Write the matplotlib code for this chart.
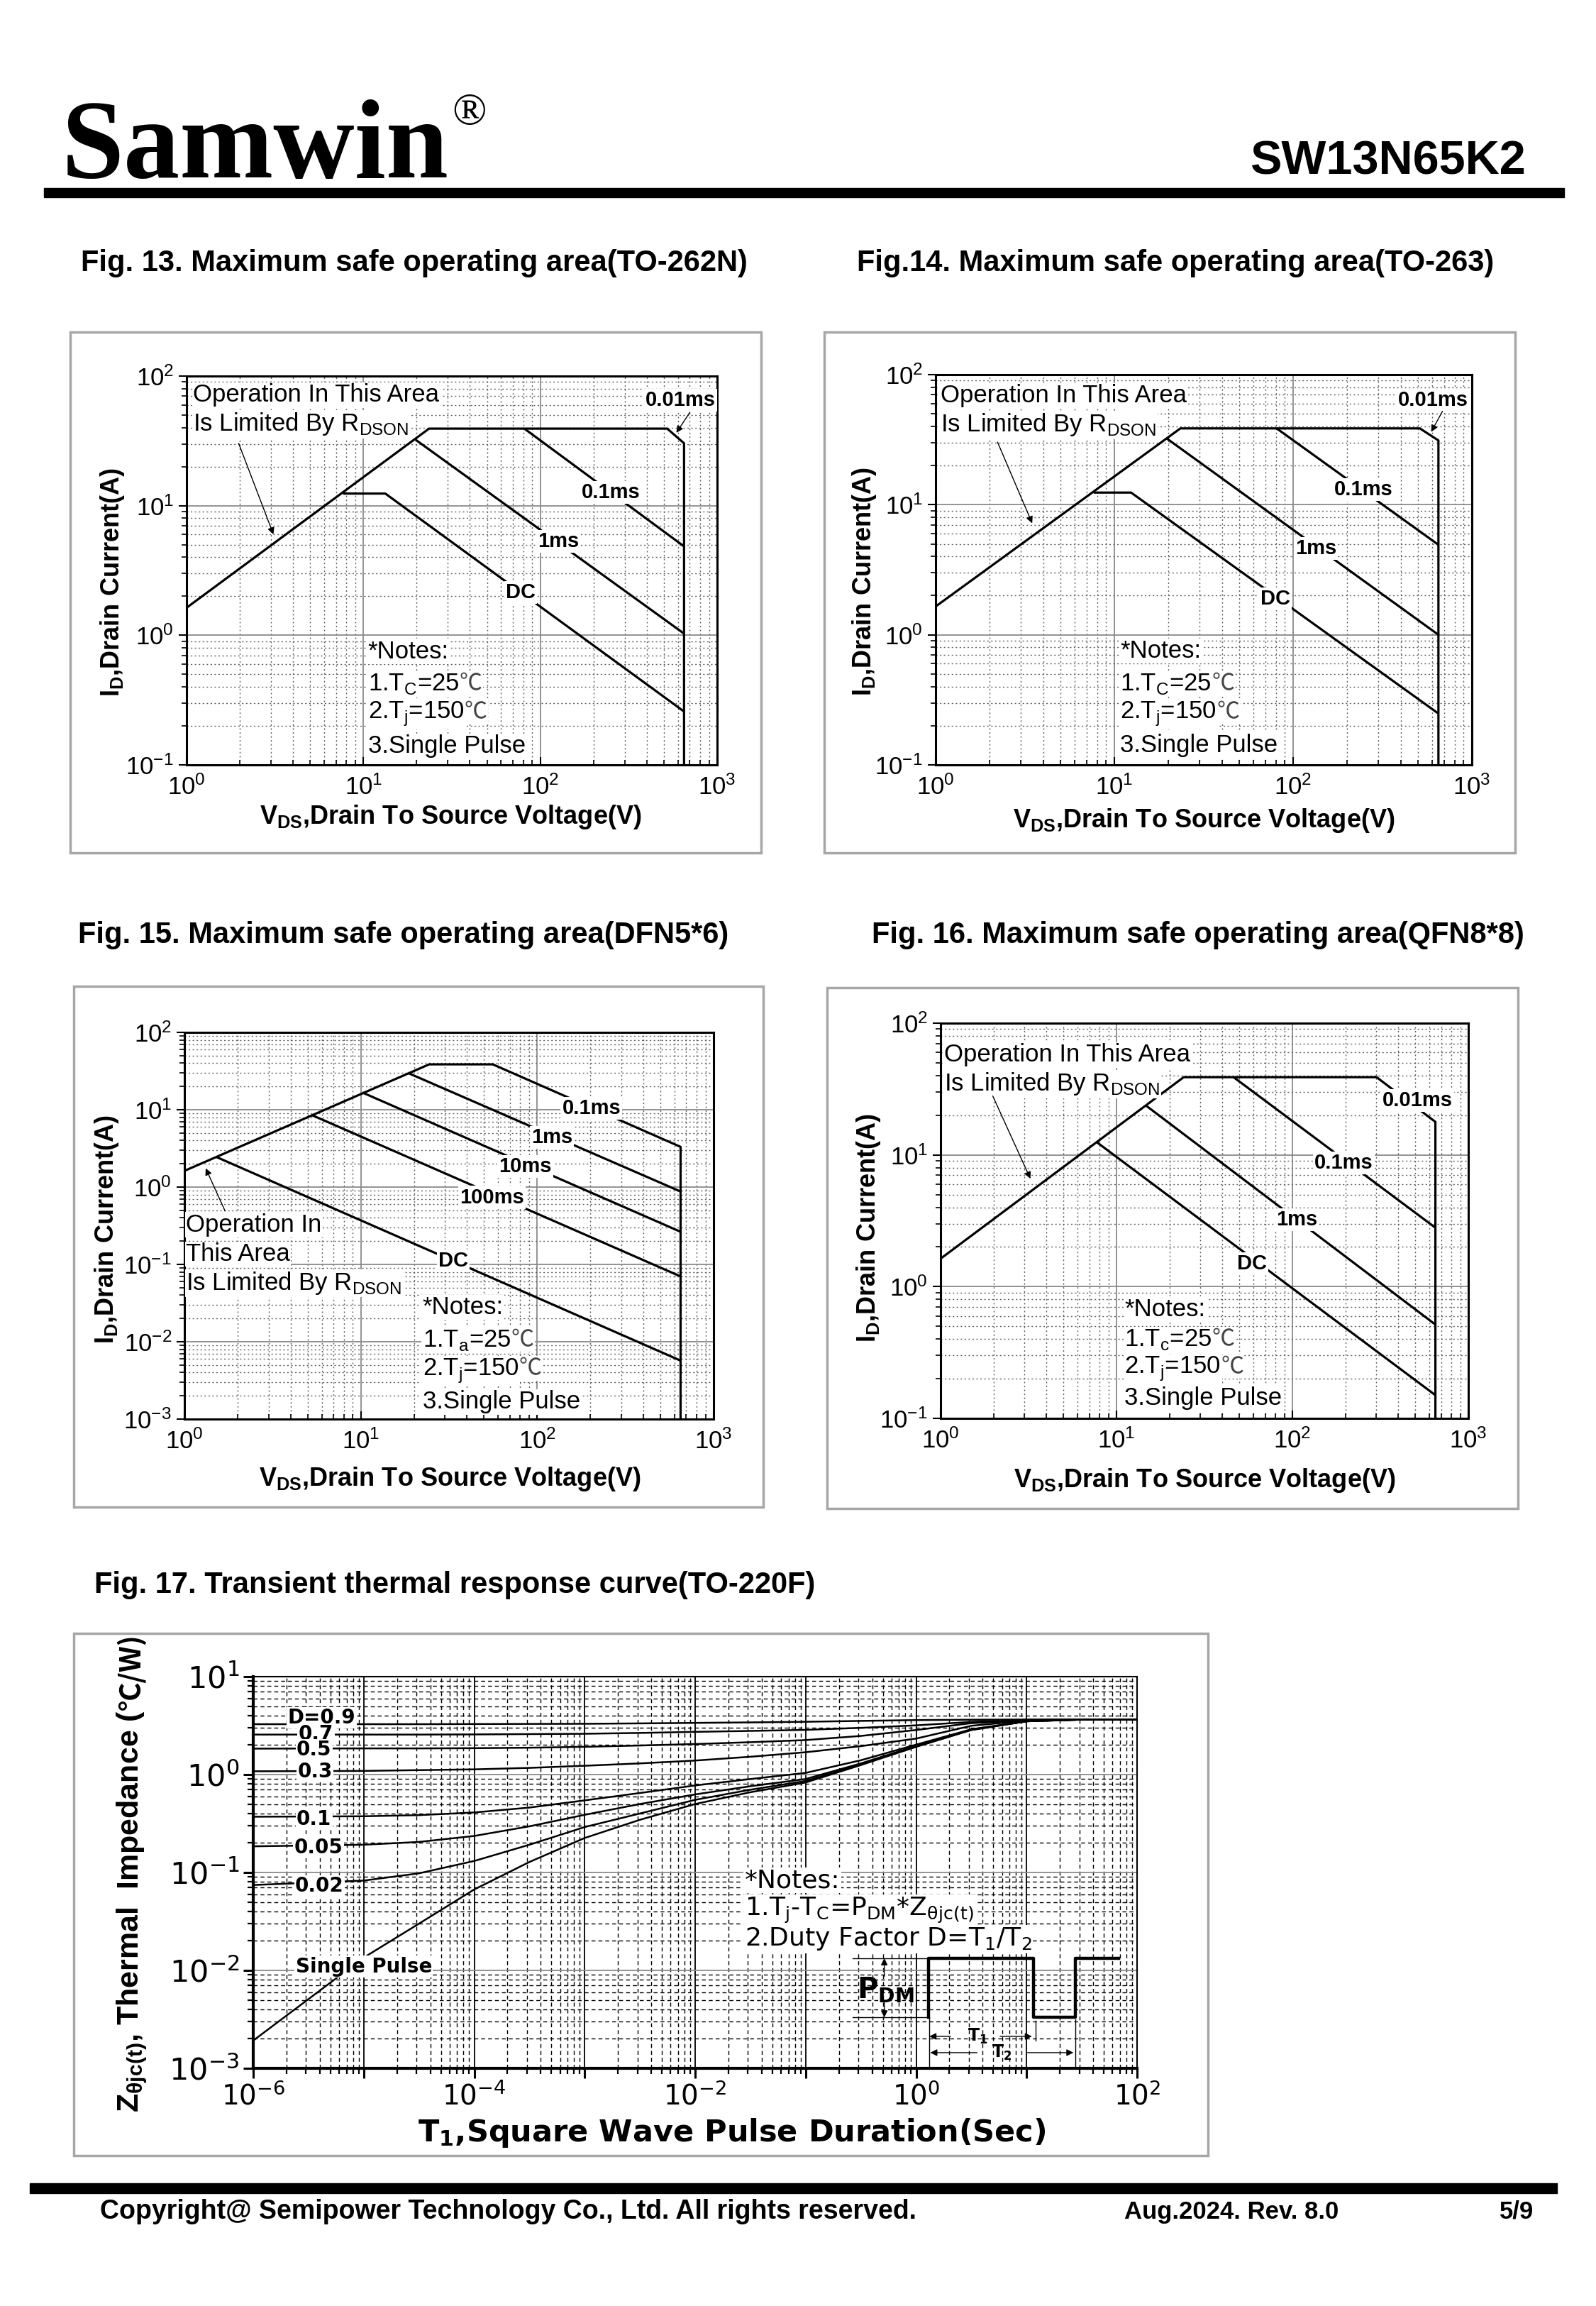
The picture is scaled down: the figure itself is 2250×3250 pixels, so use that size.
import matplotlib
matplotlib.use("Agg")
import matplotlib.pyplot as plt
from matplotlib.patches import Rectangle
from matplotlib.ticker import LogLocator, FuncFormatter, NullFormatter
import numpy as np

W, H = 2250, 3250
SANS = ["Liberation Sans", "DejaVu Sans"]
WIDE = ["DejaVu Sans"]
NARROW = ["Liberation Sans Narrow", "Liberation Sans", "DejaVu Sans"]
SERIF = ["Liberation Serif", "DejaVu Serif"]
CJK = ["Noto Sans CJK SC", "DejaVu Sans"]
DEG_C = "\u2103"

plt.rcParams["font.family"] = SANS
plt.rcParams["mathtext.fontset"] = "dejavusans"

# ---------------- data ----------------
# Fig.13 TO-262N  (V in volts, I in amps)
f13_env_v = [1, 23.5, 522, 650, 650]
f13_env_i = [1.63, 39.3, 39.3, 30.3, 0.1]
f13_p01_v = [81.3, 650]
f13_p01_i = [39.3, 4.85]
f13_p1_v = [19.7, 650]
f13_p1_i = [32.3, 1.03]
f13_dc_v = [7.67, 13.3, 650]
f13_dc_i = [12.4, 12.4, 0.258]

# Fig.14 TO-263
f14_env_v = [1, 23.4, 512, 650, 650]
f14_env_i = [1.65, 38.6, 38.6, 31.2, 0.1]
f14_p01_v = [80.9, 650]
f14_p01_i = [38.6, 4.92]
f14_p1_v = [19.7, 650]
f14_p1_i = [32.2, 1.0]
f14_dc_v = [7.66, 12.4, 650]
f14_dc_i = [12.4, 12.4, 0.248]

# Fig.15 DFN5*6
f15_env_v = [1, 24.4, 56, 650, 650]
f15_env_i = [1.62, 38.6, 38.6, 3.31, 0.001]
f15_p1_v = [18.5, 650]
f15_p1_i = [29.9, 0.875]
f15_p10_v = [10.2, 650]
f15_p10_i = [16.7, 0.264]
f15_p100_v = [5.25, 650]
f15_p100_i = [8.57, 0.0699]
f15_dc_v = [1.51, 650]
f15_dc_i = [2.46, 0.0057]

# Fig.16 QFN8*8
f16_env_v = [1, 24.1, 301, 650, 650]
f16_env_i = [1.63, 38.9, 38.9, 17.8, 0.1]
f16_p01_v = [46.3, 650]
f16_p01_i = [38.9, 2.8]
f16_p1_v = [14.7, 650]
f16_p1_i = [23.7, 0.515]
f16_dc_v = [7.78, 650]
f16_dc_i = [12.4, 0.150]

# Fig.17 transient thermal response, pulse width in s, Z in C/W
zth_t = [1e-6, 1e-5, 10**-4.5, 1e-4, 10**-3.5, 1e-3, 10**-2.5, 1e-2,
         10**-1.5, 1e-1, 10**-0.5, 1.0, 10**0.5, 10.0, 10**1.5, 100.0]
zth_d09 = [3.27, 3.27, 3.27, 3.28, 3.29, 3.30, 3.33, 3.37, 3.41, 3.46, 3.53, 3.60, 3.63, 3.65, 3.66, 3.66]
zth_d07 = [2.56, 2.56, 2.56, 2.57, 2.59, 2.61, 2.66, 2.73, 2.79, 2.86, 3.00, 3.18, 3.45, 3.60, 3.65, 3.66]
zth_d05 = [1.84, 1.85, 1.85, 1.86, 1.88, 1.92, 1.98, 2.05, 2.14, 2.25, 2.48, 2.85, 3.35, 3.58, 3.65, 3.66]
zth_d03 = [1.08, 1.09, 1.11, 1.13, 1.17, 1.23, 1.30, 1.39, 1.52, 1.69, 1.95, 2.33, 3.15, 3.55, 3.65, 3.66]
zth_d01 = [0.371, 0.375, 0.385, 0.41, 0.46, 0.545, 0.648, 0.774, 0.90, 1.04, 1.40, 2.02, 2.90, 3.50, 3.64, 3.66]
zth_d005 = [0.185, 0.192, 0.205, 0.236, 0.296, 0.388, 0.50, 0.627, 0.76, 0.90, 1.30, 1.96, 2.88, 3.50, 3.64, 3.66]
zth_d002 = [0.0745, 0.0826, 0.098, 0.131, 0.192, 0.291, 0.40, 0.552, 0.70, 0.86, 1.27, 1.93, 2.86, 3.50, 3.64, 3.66]
zth_single = [0.00192, 0.0135, 0.030, 0.067, 0.128, 0.225, 0.345, 0.50, 0.66, 0.83, 1.25, 1.92, 2.85, 3.50, 3.64, 3.66]
zth_names = ["D=0.9", "0.7", "0.5", "0.3", "0.1", "0.05", "0.02", "Single Pulse"]
# label anchor points (t, Z)
zth_lab_t = [4.17e-6, 3.7e-6, 3.55e-6, 3.63e-6, 3.55e-6, 3.9e-6, 3.98e-6, 1.0e-5]
zth_lab_z = [3.80, 2.59, 1.79, 1.07, 0.349, 0.179, 0.0728, 0.0109]

fig = plt.figure(figsize=(W / 100, H / 100), dpi=100)
WHITE = dict(facecolor="white", edgecolor="none", pad=1.0)


def fx(x):
    return x / W


def fy(y):
    return 1 - y / H


def box(l, t, r, b):
    fig.patches.append(Rectangle((fx(l), fy(b)), (r - l) / W, (b - t) / H,
                                 transform=fig.transFigure, fill=False,
                                 edgecolor="#a6a6a6", lw=2.5))


def dec_fmt(v, pos):
    return r"$\mathdefault{10^{%d}}$" % int(round(np.log10(v)))


def soa_axes(l, t, r, b, ymin, ymax):
    ax = fig.add_axes([fx(l), fy(b), (r - l) / W, (b - t) / H])
    ax.set_xscale("log")
    ax.set_yscale("log")
    ax.set_xlim(1, 1000)
    ax.set_ylim(ymin, ymax)
    for a in (ax.xaxis, ax.yaxis):
        a.set_major_locator(LogLocator(10, numticks=12))
        a.set_minor_locator(LogLocator(10, subs=np.arange(2, 10), numticks=60))
        a.set_major_formatter(FuncFormatter(dec_fmt))
        a.set_minor_formatter(NullFormatter())
    ax.grid(which="major", color="#8a8a8a", lw=1.3, ls="-")
    ax.grid(which="minor", color="#606060", lw=1.0, ls=(0, (1.5, 2.5)))
    ax.tick_params(axis="x", which="both", direction="in", labelsize=25, pad=10)
    ax.tick_params(axis="y", which="both", direction="out", labelsize=25, pad=5)
    ax.tick_params(which="major", length=8, width=1.5)
    ax.tick_params(which="minor", length=5, width=1.2)
    for s in ax.spines.values():
        s.set_linewidth(2.2)
    return ax


def curve(ax, v, i):
    ax.plot(v, i, color="black", lw=2.3, solid_capstyle="butt", zorder=3)


def lab(ax, txt, v, i, size=21):
    ax.text(v, i, txt, fontsize=size, fontweight="bold", ha="center", va="center",
            zorder=5, bbox=dict(facecolor="white", edgecolor="none", pad=1.5))


def note(ax, txt, v, i, size=25):
    return ax.text(v, i, txt, fontsize=size, ha="left", va="center", zorder=5, bbox=WHITE)


def note_c(ax, txt, v, i, size=25):
    # mathtext part, then the degree-Celsius sign in a font that has it
    t = note(ax, txt, v, i, size)
    ax.annotate(DEG_C, xy=(1, 1), xycoords=t, family=CJK, fontsize=size - 2,
                ha="left", va="top", zorder=5, bbox=WHITE, color="#444444")


def arrow(ax, xy_from, xy_to):
    ax.annotate("", xy=xy_to, xytext=xy_from, zorder=6,
                arrowprops=dict(arrowstyle="-|>", lw=1.0, color="black",
                                mutation_scale=14, shrinkA=0, shrinkB=0))


def soa_labels(xl, yl, lx, ly):
    fig.text(fx(xl), fy(yl), r"V$_\mathdefault{DS}$,Drain To Source Voltage(V)",
             fontsize=26, fontweight="bold", ha="center", va="center")
    fig.text(fx(lx), fy(ly), r"I$_\mathdefault{D}$,Drain Current(A)",
             fontsize=26, fontweight="bold", ha="center", va="center", rotation=90)


TITLE = dict(fontsize=30, fontweight="bold", ha="left", va="center")

# ---------------- header ----------------
fig.text(fx(87), fy(250), "Samwin", family=SERIF, fontsize=114, fontweight="bold",
         ha="left", va="baseline")
fig.text(fx(662), fy(160), "\u00ae", family=SERIF, fontsize=46, ha="center", va="center")
fig.text(fx(2151), fy(246), "SW13N65K2", fontsize=48, fontweight="bold",
         ha="right", va="baseline")
fig.add_artist(Rectangle((fx(62), fy(278)), (2205 - 62) / W, 13 / H,
                         transform=fig.transFigure, color="black"))

# ---------------- Fig.13 ----------------
fig.text(fx(114), fy(371), "Fig. 13. Maximum safe operating area(TO-262N)", **TITLE)
box(99, 468, 1073, 1202)
ax = soa_axes(263, 530, 1011, 1078, 0.1, 100)
for v, i in [(f13_env_v, f13_env_i), (f13_p01_v, f13_p01_i),
             (f13_p1_v, f13_p1_i), (f13_dc_v, f13_dc_i)]:
    curve(ax, v, i)
lab(ax, "0.01ms", 623, 65)
lab(ax, "0.1ms", 250, 12.7)
lab(ax, "1ms", 127, 5.3)
lab(ax, "DC", 77.6, 2.13)
arrow(ax, (702, 52.6), (588, 36.5))
note(ax, "Operation In This Area", 1.09, 71.4)
note(ax, r"Is Limited By R$_\mathdefault{DSON}$", 1.09, 42.5)
arrow(ax, (1.97, 30.3), (3.1, 6.0))
note(ax, "*Notes:", 10.6, 0.75)
note_c(ax, r"1.T$_\mathdefault{C}$=25", 10.6, 0.42)
note_c(ax, r"2.T$_\mathdefault{j}$=150", 10.6, 0.245)
note(ax, "3.Single Pulse", 10.6, 0.139)
soa_labels(635, 1152, 158, 821)

# ---------------- Fig.14 ----------------
fig.text(fx(1208), fy(371), "Fig.14. Maximum safe operating area(TO-263)", **TITLE)
box(1162, 468, 2136, 1202)
ax = soa_axes(1319, 528, 2075, 1078, 0.1, 100)
for v, i in [(f14_env_v, f14_env_i), (f14_p01_v, f14_p01_i),
             (f14_p1_v, f14_p1_i), (f14_dc_v, f14_dc_i)]:
    curve(ax, v, i)
lab(ax, "0.01ms", 609, 63.5)
lab(ax, "0.1ms", 247, 13)
lab(ax, "1ms", 134, 4.6)
lab(ax, "DC", 79.5, 1.9)
arrow(ax, (685, 52.3), (592, 36.3))
note(ax, "Operation In This Area", 1.07, 68.7)
note(ax, r"Is Limited By R$_\mathdefault{DSON}$", 1.07, 41.0)
arrow(ax, (2.22, 30.3), (3.47, 7.2))
note(ax, "*Notes:", 10.8, 0.75)
note_c(ax, r"1.T$_\mathdefault{C}$=25", 10.8, 0.42)
note_c(ax, r"2.T$_\mathdefault{j}$=150", 10.8, 0.245)
note(ax, "3.Single Pulse", 10.8, 0.142)
soa_labels(1697, 1157, 1218, 820)

# ---------------- Fig.15 ----------------
fig.text(fx(110), fy(1318), "Fig. 15. Maximum safe operating area(DFN5*6)", **TITLE)
box(104, 1390, 1076, 2124)
ax = soa_axes(260, 1455, 1006, 2000, 0.001, 100)
for v, i in [(f15_env_v, f15_env_i), (f15_p1_v, f15_p1_i), (f15_p10_v, f15_p10_i),
             (f15_p100_v, f15_p100_i), (f15_dc_v, f15_dc_i)]:
    curve(ax, v, i)
lab(ax, "0.1ms", 203, 10.5)
lab(ax, "1ms", 121, 4.4)
lab(ax, "10ms", 85.7, 1.85)
lab(ax, "100ms", 55.3, 0.736)
lab(ax, "DC", 33.4, 0.111)
note(ax, "Operation In", 1.02, 0.324)
note(ax, "This Area", 1.02, 0.136)
note(ax, r"Is Limited By R$_\mathdefault{DSON}$", 1.02, 0.057)
arrow(ax, (1.7, 0.49), (1.32, 1.75))
note(ax, "*Notes:", 22.4, 0.0278)
note_c(ax, r"1.T$_\mathdefault{a}$=25", 22.4, 0.0105)
note_c(ax, r"2.T$_\mathdefault{j}$=150", 22.4, 0.0042)
note(ax, "3.Single Pulse", 22.4, 0.00167)
soa_labels(634, 2084, 150, 1733)

# ---------------- Fig.16 ----------------
fig.text(fx(1229), fy(1318), "Fig. 16. Maximum safe operating area(QFN8*8)", **TITLE)
box(1166, 1392, 2140, 2126)
ax = soa_axes(1326, 1442, 2070, 1999, 0.1, 100)
for v, i in [(f16_env_v, f16_env_i), (f16_p01_v, f16_p01_i),
             (f16_p1_v, f16_p1_i), (f16_dc_v, f16_dc_i)]:
    curve(ax, v, i)
lab(ax, "0.01ms", 514, 25.9)
lab(ax, "0.1ms", 196, 8.67)
lab(ax, "1ms", 106, 3.22)
lab(ax, "DC", 58.7, 1.49)
note(ax, "Operation In This Area", 1.05, 57.5)
note(ax, r"Is Limited By R$_\mathdefault{DSON}$", 1.05, 34.5)
arrow(ax, (1.98, 28), (3.24, 6.6))
note(ax, "*Notes:", 11.1, 0.675)
note_c(ax, r"1.T$_\mathdefault{c}$=25", 11.1, 0.394)
note_c(ax, r"2.T$_\mathdefault{j}$=150", 11.1, 0.236)
note(ax, "3.Single Pulse", 11.1, 0.142)
soa_labels(1698, 2087, 1224, 1731)

# ---------------- Fig.17 ----------------
fig.text(fx(133), fy(2234), "Fig. 17. Transient thermal response curve(TO-220F)", **TITLE)
box(104, 2302, 1703, 3038)
ax = fig.add_axes([fx(357), fy(2915), (1603 - 357) / W, (2915 - 2363) / H])
ax.set_xscale("log")
ax.set_yscale("log")
ax.set_xlim(1e-6, 1e2)
ax.set_ylim(1e-3, 1e1)
ax.xaxis.set_major_locator(LogLocator(10, numticks=12))
ax.xaxis.set_minor_locator(LogLocator(10, subs=np.arange(2, 10), numticks=100))
ax.yaxis.set_major_locator(LogLocator(10, numticks=12))
ax.yaxis.set_minor_locator(LogLocator(10, subs=np.arange(2, 10), numticks=100))
ax.xaxis.set_major_formatter(FuncFormatter(
    lambda v, p: dec_fmt(v, p) if int(round(np.log10(v))) % 2 == 0 else ""))
ax.yaxis.set_major_formatter(FuncFormatter(dec_fmt))
ax.xaxis.set_minor_formatter(NullFormatter())
ax.yaxis.set_minor_formatter(NullFormatter())
ax.grid(which="major", axis="x", color="black", lw=1.3, ls="-")
ax.grid(which="major", axis="y", color="#8a8a8a", lw=1.3, ls="-")
ax.grid(which="minor", color="black", lw=1.0, ls=(0, (4, 3)))
ax.tick_params(which="both", direction="out")
ax.tick_params(which="major", length=10, width=2.2, pad=4)
ax.tick_params(which="minor", length=6, width=1.6)
for lbl in ax.get_xticklabels():
    lbl.set_family(WIDE)
    lbl.set_fontsize(28)
for lbl in ax.get_yticklabels():
    lbl.set_family(WIDE)
    lbl.set_fontsize(31)
for s in ax.spines.values():
    s.set_linewidth(3)
ax.spines["top"].set_linewidth(1.5)
ax.spines["right"].set_linewidth(1.5)

for z in [zth_d09, zth_d07, zth_d05, zth_d03, zth_d01, zth_d005, zth_d002, zth_single]:
    ax.plot(zth_t, z, color="black", lw=1.8, zorder=3)
for name, t, z in zip(zth_names, zth_lab_t, zth_lab_z):
    ax.text(t, z, name, family=WIDE, fontsize=20, fontweight="bold", ha="center",
            va="center", zorder=5, bbox=WHITE)

ax.text(0.556, 0.480, "*Notes:", transform=ax.transAxes, family=WIDE, fontsize=26,
        ha="left", va="center", zorder=5, bbox=WHITE)
ax.text(0.556, 0.404,
        r"1.T$_\mathdefault{j}$-T$_\mathdefault{C}$=P$_\mathdefault{DM}$*Z$_\mathdefault{\theta jc(t)}$",
        transform=ax.transAxes, family=WIDE, fontsize=26, ha="left", va="center", zorder=5,
        bbox=WHITE)
ax.text(0.556, 0.330, r"2.Duty Factor D=T$_\mathdefault{1}$/T$_\mathdefault{2}$",
        transform=ax.transAxes, family=WIDE, fontsize=26, ha="left", va="center", zorder=5,
        bbox=WHITE)

# pulse sketch (axes fraction)
wave_x = [0.764, 0.764, 0.883, 0.883, 0.930, 0.930, 0.979]
wave_y = [0.130, 0.281, 0.281, 0.130, 0.130, 0.281, 0.281]
ax.plot(wave_x, wave_y, transform=ax.transAxes, color="black", lw=3.2, zorder=6)
ax.plot([0.678, 0.764], [0.281, 0.281], transform=ax.transAxes, color="black", lw=1.0, zorder=6)
ax.plot([0.678, 0.764], [0.130, 0.130], transform=ax.transAxes, color="black", lw=1.0, zorder=6)
for xs, y0, y1 in [(0.765, 0.130, 0.0), (0.885, 0.121, 0.071), (0.930, 0.125, 0.0)]:
    ax.plot([xs, xs], [y0, y1], transform=ax.transAxes, color="black", lw=1.0, zorder=6)
for (x0, y0), (x1, y1) in [((0.714, 0.235), (0.714, 0.281)), ((0.714, 0.170), (0.714, 0.130)),
                           ((0.789, 0.0815), (0.765, 0.0815)), ((0.845, 0.0815), (0.881, 0.0815)),
                           ((0.819, 0.040), (0.766, 0.040)), ((0.876, 0.040), (0.928, 0.040))]:
    ax.annotate("", xy=(x1, y1), xytext=(x0, y0), xycoords="axes fraction", zorder=6,
                arrowprops=dict(arrowstyle="-|>", lw=1.0, color="black",
                                mutation_scale=14, shrinkA=0, shrinkB=0))
ax.text(0.715, 0.199, r"P$_\mathdefault{DM}$", transform=ax.transAxes, family=WIDE,
        fontsize=29, fontweight="bold", ha="center", va="center", zorder=6)
ax.text(0.820, 0.0815, r"T$_\mathdefault{1}$", transform=ax.transAxes, family=WIDE,
        fontsize=17, fontweight="bold", ha="center", va="center", zorder=6)
ax.text(0.847, 0.040, r"T$_\mathdefault{2}$", transform=ax.transAxes, family=WIDE,
        fontsize=17, fontweight="bold", ha="center", va="center", zorder=6)

fig.text(fx(1032), fy(3006), r"T$_\mathdefault{1}$,Square Wave Pulse Duration(Sec)",
         family=WIDE, fontsize=31, fontweight="bold", ha="center", va="center")
ylab = fig.text(fx(186), fy(2977), r"Z$_\mathdefault{\theta jc(t)}$, Thermal  Impedance (",
                family=NARROW, fontsize=31, fontweight="bold", ha="center", va="bottom",
                rotation=90)
ax.annotate(DEG_C + "/W)", xy=(0.5, 1), xycoords=ylab, family=CJK, fontsize=29,
            fontweight="bold", ha="center", va="bottom", rotation=90,
            annotation_clip=False)

# ---------------- footer ----------------
fig.add_artist(Rectangle((fx(42), fy(3091)), (2195 - 42) / W, 14 / H,
                         transform=fig.transFigure, color="black"))
fig.text(fx(141), fy(3117), "Copyright@ Semipower Technology Co., Ltd. All rights reserved.",
         fontsize=27, fontweight="bold", va="center", ha="left")
fig.text(fx(1585), fy(3117), "Aug.2024. Rev. 8.0", fontsize=25, fontweight="bold",
         va="center", ha="left")
fig.text(fx(2162), fy(3117), "5/9", fontsize=25, fontweight="bold", va="center", ha="right")

fig.savefig("out.png", dpi=100, facecolor="white")
